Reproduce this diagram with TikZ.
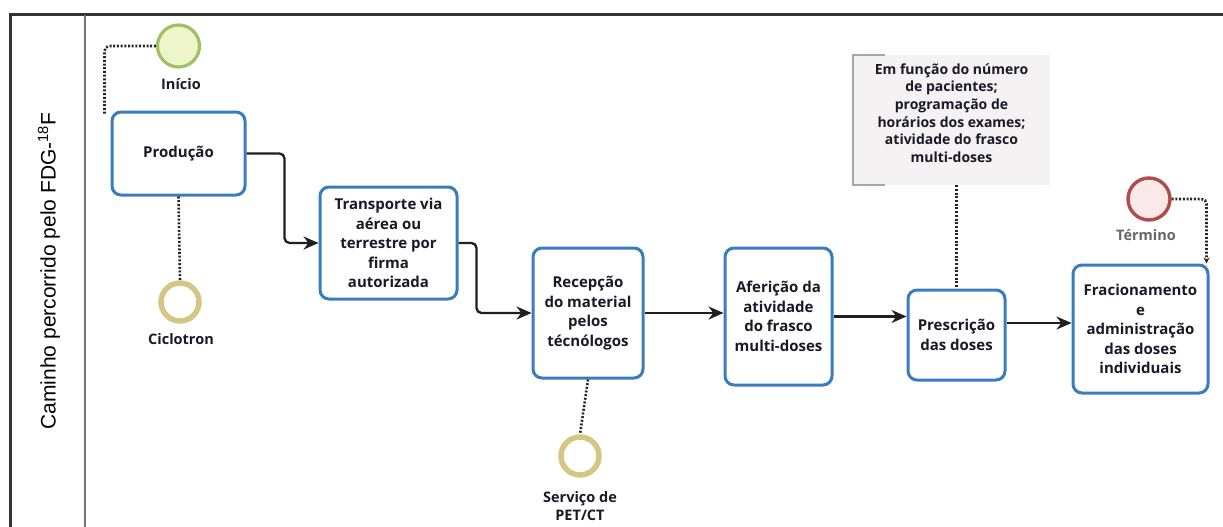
\documentclass[tikz,border=0pt]{standalone}
\usepackage{fontspec}
\setmainfont{Open Sans}
\newfontfamily\lanefont{Liberation Sans}
\usetikzlibrary{arrows.meta}

\definecolor{taskblue}{RGB}{58,125,190}
\definecolor{txtdark}{RGB}{25,25,40}
\definecolor{startfill}{RGB}{238,245,200}
\definecolor{startline}{RGB}{160,192,100}
\definecolor{midline}{RGB}{212,199,134}
\definecolor{endline}{RGB}{175,75,75}
\definecolor{endfill}{RGB}{251,232,232}
\definecolor{annotbg}{RGB}{244,242,242}

\begin{document}
\begin{tikzpicture}[x=1pt, y=-1pt,
	task/.style={draw=taskblue, line width=3pt, rounded corners=9pt, fill=white,
		align=center, text=txtdark, inner sep=0pt,
		font=\bfseries\fontsize{15}{19.5}\selectfont},
	startev/.style={circle, draw=startline, fill=startfill, line width=3.2pt, minimum size=42pt, inner sep=0pt},
	midev/.style={circle, draw=midline, fill=white, line width=5.5pt, minimum size=38pt, inner sep=0pt},
	endev/.style={circle, draw=endline, fill=endfill, line width=3.4pt, minimum size=42pt, inner sep=0pt},
	evlabel/.style={text=txtdark, align=center, font=\bfseries\fontsize{14.5}{19}\selectfont},
	flow/.style={draw=black!88, line width=2.3pt, rounded corners=5pt, -{Stealth[length=15pt, width=13pt]}},
	assoc/.style={draw=black!85, line width=2.6pt, dash pattern=on 2pt off 1.7pt, rounded corners=5pt},
	poolline/.style={draw=black!80, line width=3pt},
	laneline/.style={draw=black!55, line width=2pt}]

	\useasboundingbox (0, 0) rectangle (1223, 527);

	% pool and lane
	\draw[poolline] (1223, 15) -- (10, 15) -- (10, 527);
	\draw[laneline] (85, 15) -- (85, 527);
	\node[rotate=90, font=\lanefont\fontsize{21}{25}\selectfont] (lane) at (49, 271) {Caminho percorrido pelo FDG-\textsuperscript{18}F};

	% events
	\node[startev] (inicio) at (178.5, 46) {};
	\node[evlabel] (linicio) at (181, 84) {Início};
	\node[midev] (ciclo) at (180, 302) {};
	\node[evlabel] (lciclo) at (181, 339) {Ciclotron};
	\node[midev] (servico) at (580, 456) {};
	\node[evlabel, font=\bfseries\fontsize{14.5}{18.5}\selectfont] (lservico) at (580, 506) {Serviço de\\PET/CT};
	\node[endev] (termino) at (1149, 199) {};
	\node[evlabel, text=black!60] (ltermino) at (1146, 235) {Término};

	% tasks
	\node[task, minimum width=133pt, minimum height=83pt] (prod) at (178.5, 153.5) {Produção};
	\node[task, minimum width=137pt, minimum height=112pt] (trans) at (388.5, 243) {Transporte via\\aérea ou\\terrestre por\\firma\\autorizada};
	\node[task, minimum width=110pt, minimum height=130pt] (recep) at (588, 313) {Recepção\\do material\\pelos\\técnólogos};
	\node[task, minimum width=107pt, minimum height=137pt] (afer) at (778.5, 316.5) {Aferição da\\atividade\\do frasco\\multi-doses};
	\node[task, minimum width=97pt, minimum height=90pt] (presc) at (956.5, 335) {Prescrição\\das doses};
	\node[task, minimum width=135pt, minimum height=128pt] (frac) at (1140.5, 329) {Fracionamento\\e\\administração\\das doses\\individuais};

	% annotation
	\node[fill=annotbg, minimum width=197pt, minimum height=130pt, inner sep=0pt] (annot) at (951.5, 120) {};
	\node[align=center, text=txtdark, font=\bfseries\fontsize{14}{17.7}\selectfont] (annottxt) at (951.5, 113)
		{Em função do número\\de pacientes;\\programação de\\horários dos exames;\\atividade do frasco\\multi-doses};
	\draw[draw=black!35, line width=1.8pt] ([xshift=32pt]annot.north west) -- (annot.north west)
		-- (annot.south west) -- ([xshift=32pt]annot.south west);

	% sequence flows
	\draw[flow] (prod.east) -- ++(38, 0) |- (trans.west);
	\draw[flow] (trans.east) -- ++(18, 0) |- (recep.west);
	\draw[flow] (recep.east) -- (afer.west |- recep.east);
	\draw[flow] (afer.east) -- (afer.east -| presc.west);
	\draw[flow] ([yshift=12pt]presc.east) -- ([yshift=12pt]presc.east -| frac.west);

	% associations
	\draw[assoc] (inicio.west) -| ([xshift=-6pt, yshift=-3pt]prod.north west);
	\draw[assoc] (prod.south) -- (ciclo.north);
	\draw[assoc] (recep.south) -- (servico.north);
	\draw[assoc] (annot.south -| presc.north) -- (presc.north);
	\draw[assoc, -{Stealth[length=6pt, width=6pt]}] (termino.east) -| ([xshift=-3pt]frac.north east);

\end{tikzpicture}
\end{document}
